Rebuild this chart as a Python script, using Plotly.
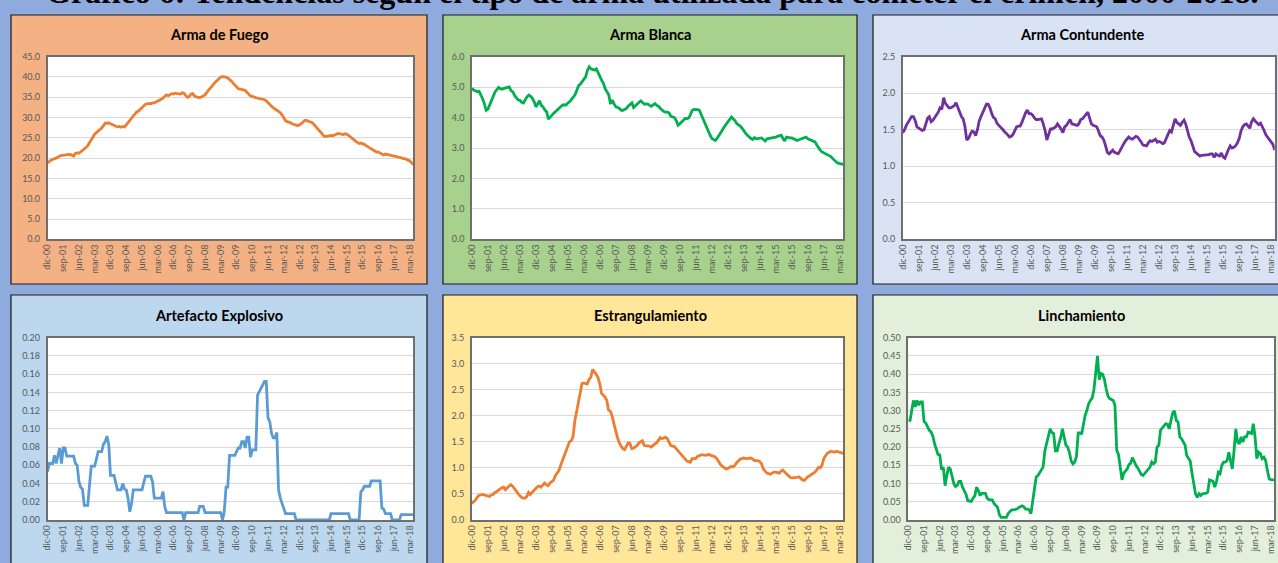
import pandas as pd
import plotly.graph_objects as go

# ---------------- data (monthly, dic-2000 .. may-2018) ----------------
START_MONTH = "2000-12-01"
N_MONTHS = 210

TICK_LABELS = ["dic-00", "sep-01", "jun-02", "mar-03", "dic-03", "sep-04", "jun-05", "mar-06",
               "dic-06", "sep-07", "jun-08", "mar-09", "dic-09", "sep-10", "jun-11", "mar-12",
               "dic-12", "sep-13", "jun-14", "mar-15", "dic-15", "sep-16", "jun-17", "mar-18"]

arma_fuego = [18.8,
    19.2, 19.5, 19.7, 19.8, 20.0, 20.3, 20.6, 20.7, 20.7, 20.8, 20.8, 20.9,
    20.9, 20.6, 20.5, 21.2, 21.3, 21.2, 21.5, 21.8, 22.2, 22.6, 23.1, 23.8,
    24.5, 25.3, 25.9, 26.3, 26.6, 26.9, 27.4, 28.0, 28.6, 28.6, 28.7, 28.5,
    28.3, 28.1, 27.9, 27.7, 27.8, 27.6, 27.8, 27.7, 28.2, 28.8, 29.4, 30.0,
    30.4, 30.9, 31.4, 31.6, 32.0, 32.4, 33.0, 33.3, 33.4, 33.5, 33.4, 33.6,
    33.6, 33.8, 34.0, 34.2, 34.5, 34.8, 35.1, 35.6, 35.4, 35.6, 35.9, 35.8,
    36.0, 35.9, 35.8, 35.8, 36.1, 36.0, 35.4, 35.0, 35.2, 35.8, 35.9, 35.3,
    35.1, 35.0, 34.9, 35.1, 35.3, 35.6, 36.2, 36.8, 37.3, 37.8, 38.3, 38.8,
    39.3, 39.8, 40.0, 40.1, 40.1, 40.0, 39.7, 39.4, 39.0, 38.5, 38.0, 37.5,
    37.1, 37.0, 36.9, 36.9, 36.7, 36.2, 35.6, 35.3, 35.2, 35.0, 34.9, 34.8,
    34.7, 34.6, 34.5, 34.4, 34.1, 33.6, 33.1, 32.8, 32.4, 32.0, 31.8, 31.5,
    31.2, 30.6, 29.8, 29.2, 29.0, 28.9, 28.7, 28.4, 28.2, 28.1, 28.0, 28.2,
    28.5, 28.9, 29.3, 29.3, 29.1, 29.0, 28.8, 28.4, 27.9, 27.4, 26.9, 26.4,
    25.9, 25.4, 25.3, 25.4, 25.5, 25.6, 25.5, 25.8, 25.9, 26.1, 26.0, 25.9,
    25.8, 26.0, 25.9, 25.6, 25.2, 24.9, 24.5, 24.2, 23.9, 23.6, 23.7, 23.6,
    23.4, 23.1, 22.9, 22.6, 22.3, 22.0, 21.7, 21.5, 21.5, 21.2, 20.9, 20.8,
    21.0, 20.9, 20.8, 20.7, 20.6, 20.5, 20.5, 20.4, 20.3, 20.1, 19.9, 19.9,
    19.7, 19.5, 19.3, 18.9, 18.4]

arma_blanca = [4.96,
    4.90, 4.88, 4.85, 4.86, 4.75, 4.62, 4.45, 4.24, 4.28, 4.42, 4.57, 4.72,
    4.85, 4.92, 4.99, 4.95, 4.93, 4.96, 4.98, 5.00, 5.01, 4.88, 4.85, 4.72,
    4.63, 4.58, 4.57, 4.50, 4.48, 4.59, 4.68, 4.74, 4.70, 4.63, 4.52, 4.35,
    4.45, 4.55, 4.40, 4.35, 4.25, 4.19, 3.95, 4.00, 4.08, 4.14, 4.19, 4.25,
    4.30, 4.35, 4.41, 4.42, 4.41, 4.48, 4.52, 4.60, 4.66, 4.75, 4.90, 5.05,
    5.10, 5.18, 5.22, 5.34, 5.55, 5.67, 5.60, 5.58, 5.56, 5.60, 5.45, 5.34,
    5.22, 5.12, 4.95, 4.85, 4.75, 4.45, 4.57, 4.45, 4.35, 4.33, 4.30, 4.24,
    4.24, 4.27, 4.30, 4.38, 4.44, 4.48, 4.33, 4.40, 4.46, 4.50, 4.55, 4.48,
    4.44, 4.45, 4.44, 4.40, 4.37, 4.42, 4.46, 4.40, 4.37, 4.30, 4.24, 4.20,
    4.18, 4.18, 4.15, 4.04, 4.02, 4.00, 3.90, 3.75, 3.80, 3.86, 3.92, 3.97,
    3.97, 3.99, 4.10, 4.24, 4.27, 4.27, 4.26, 4.24, 4.10, 3.95, 3.80, 3.65,
    3.53, 3.42, 3.31, 3.27, 3.25, 3.32, 3.40, 3.50, 3.60, 3.70, 3.78, 3.86,
    3.95, 4.02, 3.96, 3.90, 3.80, 3.77, 3.72, 3.65, 3.55, 3.48, 3.42, 3.35,
    3.31, 3.28, 3.34, 3.30, 3.31, 3.34, 3.33, 3.28, 3.23, 3.30, 3.31, 3.31,
    3.33, 3.34, 3.36, 3.38, 3.40, 3.42, 3.32, 3.23, 3.36, 3.34, 3.33, 3.33,
    3.31, 3.28, 3.25, 3.27, 3.29, 3.31, 3.33, 3.36, 3.30, 3.28, 3.25, 3.22,
    3.20, 3.10, 3.01, 2.93, 2.87, 2.84, 2.81, 2.79, 2.76, 2.72, 2.65, 2.58,
    2.54, 2.50, 2.48, 2.47, 2.46]

arma_contundente = [1.46,
    1.50, 1.56, 1.60, 1.65, 1.68, 1.68, 1.63, 1.54, 1.52, 1.50, 1.49, 1.50,
    1.58, 1.66, 1.68, 1.61, 1.63, 1.67, 1.70, 1.74, 1.80, 1.78, 1.94, 1.86,
    1.83, 1.80, 1.80, 1.81, 1.83, 1.87, 1.81, 1.76, 1.68, 1.65, 1.54, 1.36,
    1.38, 1.44, 1.48, 1.47, 1.42, 1.50, 1.62, 1.68, 1.74, 1.80, 1.85, 1.85,
    1.80, 1.72, 1.67, 1.65, 1.59, 1.56, 1.54, 1.51, 1.48, 1.46, 1.43, 1.40,
    1.41, 1.44, 1.50, 1.54, 1.55, 1.55, 1.60, 1.68, 1.73, 1.77, 1.72, 1.72,
    1.70, 1.66, 1.64, 1.64, 1.64, 1.65, 1.58, 1.49, 1.36, 1.45, 1.51, 1.51,
    1.52, 1.54, 1.58, 1.55, 1.51, 1.46, 1.54, 1.56, 1.60, 1.64, 1.58, 1.57,
    1.57, 1.56, 1.58, 1.64, 1.65, 1.68, 1.70, 1.74, 1.66, 1.58, 1.56, 1.55,
    1.54, 1.48, 1.42, 1.40, 1.36, 1.28, 1.19, 1.17, 1.19, 1.22, 1.19, 1.18,
    1.17, 1.21, 1.26, 1.30, 1.34, 1.37, 1.40, 1.38, 1.37, 1.39, 1.41, 1.40,
    1.37, 1.33, 1.29, 1.29, 1.28, 1.32, 1.35, 1.34, 1.35, 1.37, 1.33, 1.34,
    1.33, 1.31, 1.32, 1.38, 1.42, 1.49, 1.47, 1.56, 1.65, 1.60, 1.58, 1.56,
    1.60, 1.63, 1.58, 1.48, 1.40, 1.35, 1.28, 1.20, 1.18, 1.16, 1.14, 1.15,
    1.15, 1.16, 1.15, 1.16, 1.17, 1.17, 1.12, 1.17, 1.15, 1.14, 1.18, 1.13,
    1.11, 1.18, 1.23, 1.28, 1.25, 1.26, 1.28, 1.32, 1.38, 1.48, 1.54, 1.57,
    1.58, 1.55, 1.52, 1.61, 1.65, 1.62, 1.60, 1.57, 1.59, 1.55, 1.49, 1.43,
    1.40, 1.36, 1.34, 1.30, 1.22]

artefacto_explosivo = [0.053,
    0.062, 0.062, 0.062, 0.071, 0.062, 0.071, 0.079, 0.062, 0.079, 0.079, 0.070, 0.070,
    0.070, 0.070, 0.070, 0.062, 0.060, 0.042, 0.036, 0.034, 0.016, 0.016, 0.016, 0.038,
    0.059, 0.059, 0.059, 0.067, 0.075, 0.075, 0.075, 0.083, 0.086, 0.092, 0.083, 0.049,
    0.049, 0.049, 0.041, 0.033, 0.033, 0.033, 0.040, 0.034, 0.033, 0.024, 0.009, 0.018,
    0.033, 0.033, 0.033, 0.033, 0.033, 0.033, 0.041, 0.048, 0.048, 0.048, 0.048, 0.042,
    0.024, 0.024, 0.024, 0.024, 0.024, 0.031, 0.015, 0.008, 0.008, 0.008, 0.008, 0.008,
    0.008, 0.008, 0.008, 0.008, 0.008, 0.000, 0.008, 0.008, 0.008, 0.008, 0.008, 0.008,
    0.008, 0.008, 0.015, 0.015, 0.015, 0.008, 0.008, 0.008, 0.008, 0.008, 0.008, 0.008,
    0.008, 0.008, 0.008, 0.000, 0.009, 0.036, 0.036, 0.071, 0.071, 0.071, 0.071, 0.075,
    0.079, 0.079, 0.086, 0.086, 0.079, 0.091, 0.091, 0.069, 0.077, 0.077, 0.077, 0.137,
    0.141, 0.146, 0.148, 0.152, 0.152, 0.112, 0.108, 0.095, 0.090, 0.090, 0.096, 0.033,
    0.024, 0.018, 0.012, 0.007, 0.007, 0.007, 0.007, 0.007, 0.007, 0.000, 0.000, 0.000,
    0.000, 0.000, 0.000, 0.000, 0.000, 0.000, 0.000, 0.000, 0.000, 0.000, 0.000, 0.000,
    0.000, 0.000, 0.000, 0.000, 0.000, 0.007, 0.007, 0.007, 0.007, 0.007, 0.007, 0.007,
    0.007, 0.007, 0.007, 0.007, 0.000, 0.000, 0.000, 0.000, 0.000, 0.000, 0.031, 0.033,
    0.037, 0.037, 0.037, 0.037, 0.043, 0.043, 0.043, 0.043, 0.043, 0.043, 0.013, 0.012,
    0.007, 0.007, 0.007, 0.007, 0.000, 0.000, 0.000, 0.000, 0.000, 0.006, 0.006, 0.006,
    0.006, 0.006, 0.006, 0.006, 0.006]

estrangulamiento = [0.32,
    0.35, 0.38, 0.43, 0.47, 0.48, 0.49, 0.48, 0.47, 0.46, 0.45, 0.48, 0.49,
    0.53, 0.54, 0.57, 0.60, 0.62, 0.63, 0.58, 0.62, 0.66, 0.68, 0.65, 0.60,
    0.56, 0.50, 0.47, 0.44, 0.42, 0.42, 0.45, 0.53, 0.49, 0.53, 0.57, 0.60,
    0.64, 0.65, 0.63, 0.67, 0.71, 0.68, 0.66, 0.71, 0.74, 0.76, 0.85, 0.90,
    0.95, 1.05, 1.13, 1.20, 1.30, 1.39, 1.50, 1.52, 1.60, 1.90, 2.10, 2.30,
    2.50, 2.62, 2.63, 2.62, 2.61, 2.70, 2.74, 2.89, 2.85, 2.80, 2.74, 2.62,
    2.43, 2.40, 2.36, 2.30, 2.11, 2.09, 2.00, 1.85, 1.70, 1.58, 1.48, 1.42,
    1.37, 1.35, 1.42, 1.48, 1.47, 1.37, 1.38, 1.40, 1.43, 1.48, 1.50, 1.52,
    1.43, 1.43, 1.43, 1.42, 1.40, 1.44, 1.46, 1.48, 1.53, 1.58, 1.56, 1.57,
    1.59, 1.56, 1.50, 1.43, 1.42, 1.41, 1.37, 1.33, 1.28, 1.26, 1.22, 1.18,
    1.13, 1.12, 1.11, 1.18, 1.18, 1.18, 1.22, 1.24, 1.25, 1.25, 1.24, 1.24,
    1.26, 1.25, 1.24, 1.23, 1.21, 1.17, 1.10, 1.06, 1.03, 1.00, 0.98, 0.99,
    1.01, 1.03, 1.02, 1.05, 1.10, 1.14, 1.17, 1.18, 1.19, 1.18, 1.18, 1.18,
    1.19, 1.17, 1.14, 1.14, 1.14, 1.12, 1.08, 0.98, 0.94, 0.90, 0.89, 0.88,
    0.90, 0.92, 0.92, 0.91, 0.90, 0.94, 0.96, 0.92, 0.89, 0.85, 0.82, 0.81,
    0.81, 0.81, 0.82, 0.83, 0.80, 0.77, 0.76, 0.80, 0.83, 0.85, 0.87, 0.89,
    0.92, 0.96, 1.01, 1.00, 1.05, 1.18, 1.24, 1.28, 1.30, 1.32, 1.31, 1.30,
    1.32, 1.31, 1.30, 1.29, 1.28]

linchamiento = [0.273,
    0.273, 0.303, 0.328, 0.310, 0.328, 0.315, 0.324, 0.324, 0.270, 0.266, 0.255, 0.246,
    0.241, 0.230, 0.210, 0.195, 0.180, 0.178, 0.138, 0.145, 0.094, 0.122, 0.145, 0.140,
    0.120, 0.099, 0.092, 0.095, 0.106, 0.106, 0.090, 0.080, 0.070, 0.053, 0.051, 0.051,
    0.060, 0.067, 0.090, 0.081, 0.067, 0.073, 0.073, 0.073, 0.060, 0.056, 0.055, 0.055,
    0.045, 0.039, 0.035, 0.015, 0.007, 0.007, 0.007, 0.007, 0.018, 0.024, 0.028, 0.028,
    0.029, 0.030, 0.034, 0.037, 0.039, 0.036, 0.030, 0.030, 0.028, 0.017, 0.050, 0.085,
    0.118, 0.122, 0.130, 0.137, 0.145, 0.190, 0.212, 0.232, 0.250, 0.240, 0.237, 0.190,
    0.190, 0.210, 0.225, 0.250, 0.229, 0.205, 0.200, 0.185, 0.162, 0.154, 0.159, 0.174,
    0.239, 0.239, 0.235, 0.262, 0.287, 0.301, 0.319, 0.328, 0.335, 0.358, 0.402, 0.450,
    0.385, 0.402, 0.400, 0.385, 0.360, 0.340, 0.333, 0.330, 0.328, 0.315, 0.191, 0.180,
    0.150, 0.110, 0.128, 0.136, 0.140, 0.152, 0.156, 0.171, 0.158, 0.150, 0.143, 0.135,
    0.125, 0.122, 0.128, 0.133, 0.140, 0.145, 0.159, 0.154, 0.159, 0.200, 0.205, 0.246,
    0.253, 0.260, 0.264, 0.263, 0.250, 0.273, 0.294, 0.299, 0.273, 0.269, 0.228, 0.223,
    0.215, 0.205, 0.177, 0.168, 0.162, 0.128, 0.094, 0.072, 0.062, 0.072, 0.067, 0.072,
    0.073, 0.073, 0.076, 0.110, 0.108, 0.106, 0.090, 0.106, 0.131, 0.127, 0.150, 0.159,
    0.159, 0.163, 0.186, 0.162, 0.140, 0.191, 0.250, 0.214, 0.209, 0.228, 0.214, 0.228,
    0.228, 0.241, 0.239, 0.237, 0.264, 0.228, 0.168, 0.186, 0.182, 0.168, 0.172, 0.163,
    0.136, 0.113, 0.111, 0.110, 0.110]

TITLES = ["Arma de Fuego", "Arma Blanca", "Arma Contundente",
          "Artefacto Explosivo", "Estrangulamiento", "Linchamiento"]
SERIES = [arma_fuego, arma_blanca, arma_contundente,
          artefacto_explosivo, estrangulamiento, linchamiento]
Y_MAX = [45, 6, 2.5, 0.20, 3.5, 0.50]
Y_STEP = [5, 1, 0.5, 0.02, 0.5, 0.05]
Y_FMT = [".1f", ".1f", ".1f", ".2f", ".1f", ".2f"]

MAIN_TITLE = "Gráfico 6: Tendencias según el tipo de arma utilizada para cometer el crimen, 2000-2018."

# ---------------- styling ----------------
W, H = 1278, 563
LINE_COLORS = ["#ED7D31", "#00B050", "#7030A0", "#5B9BD5", "#ED7D31", "#00B050"]
PANEL_COLORS = ["#F4B183", "#A9D18E", "#DAE3F3", "#BDD7EE", "#FFE699", "#E2EFDA"]
# panels in pixels: (x0, x1, y0, y1)
PANELS = [(11, 427, 15, 284), (443, 857, 15, 284), (873, 1292, 15, 284),
          (11, 427, 295, 590), (443, 857, 295, 590), (873, 1292, 295, 590)]
# plot areas in pixels: (x0, x1, y_top, y_bottom)
PLOTS = [(47.5, 413.3, 56.7, 239.3), (472, 843.3, 56.7, 239.3), (902.7, 1274.7, 56.7, 239.3),
         (47.5, 413.3, 337.7, 520), (471.7, 843.3, 337.7, 520), (908.3, 1274.3, 337.7, 520)]
TITLE_Y = [34, 34, 34, 315, 315, 315]

FONT = "Lato, 'Open Sans', sans-serif"

dates = pd.date_range(START_MONTH, periods=N_MONTHS, freq="MS")
tickvals = list(dates[::9])

fig = go.Figure()
layout = dict(
    template="none",
    width=W, height=H, margin=dict(l=0, r=0, t=0, b=0, pad=0), autosize=False,
    paper_bgcolor="#8FAADC", plot_bgcolor="rgba(0,0,0,0)",
    showlegend=False, shapes=[], annotations=[], hovermode="closest",
)


def px_x(v):
    return v / W


def px_y(v):
    return 1 - v / H


panel_shapes = []
plot_shapes = []
for k in range(6):
    sfx = "" if k == 0 else str(k + 1)
    fig.add_trace(go.Scatter(
        x=dates, y=SERIES[k], mode="lines",
        line=dict(color=LINE_COLORS[k], width=2.8),
        xaxis="x" + sfx, yaxis="y" + sfx, hoverinfo="x+y",
    ))
    x0, x1, yt, yb = PLOTS[k]
    layout["xaxis" + sfx] = dict(
        domain=[px_x(x0), px_x(x1)], anchor="y" + sfx, type="date", automargin=False,
        range=[dates[0], dates[-1]], tickmode="array", tickvals=tickvals, ticktext=TICK_LABELS,
        tickangle=-90, tickfont=dict(family=FONT, size=9, color="#595959"),
        showgrid=False, showline=True, linecolor="#6F6F6F", linewidth=1.5, mirror=True,
        ticks="", zeroline=False, fixedrange=True,
    )
    layout["yaxis" + sfx] = dict(
        domain=[px_y(yb), px_y(yt)], anchor="x" + sfx, automargin=False,
        range=[0, Y_MAX[k]], dtick=Y_STEP[k], tick0=0, tickformat=Y_FMT[k],
        tickfont=dict(family=FONT, size=9, color="#595959"),
        showgrid=True, gridcolor="#D9D9D9", gridwidth=1,
        showline=True, linecolor="#6F6F6F", linewidth=1.5, mirror=True,
        ticks="", zeroline=False, fixedrange=True, ticklabelstandoff=4,
    )
    px0, px1, py0, py1 = PANELS[k]
    panel_shapes.append(dict(
        type="rect", xref="paper", yref="paper", layer="below",
        x0=px_x(px0), x1=px_x(px1), y0=px_y(py1), y1=px_y(py0),
        fillcolor=PANEL_COLORS[k], line=dict(color="#1A1A1A", width=1.2),
    ))
    plot_shapes.append(dict(
        type="rect", xref="paper", yref="paper", layer="below",
        x0=px_x(x0), x1=px_x(x1), y0=px_y(yb), y1=px_y(yt),
        fillcolor="#FFFFFF", line=dict(width=0),
    ))
    layout["annotations"].append(dict(
        text="<b>" + TITLES[k] + "</b>", xref="paper", yref="paper",
        x=px_x((px0 + min(px1, 1290)) / 2), y=px_y(TITLE_Y[k]),
        xanchor="center", yanchor="middle", showarrow=False,
        font=dict(family=FONT, size=14.5, color="#000000"),
    ))

layout["shapes"] = panel_shapes + plot_shapes

layout["annotations"].append(dict(
    text="<b>" + MAIN_TITLE + "</b>", xref="paper", yref="paper",
    x=px_x(652), y=px_y(-8), xanchor="center", yanchor="middle", showarrow=False,
    font=dict(family="'Liberation Serif', 'Times New Roman', serif", size=32, color="#000000"),
))

fig.update_layout(**layout)
fig.write_html(
    "out.html",
    config={"displayModeBar": False},
    post_script="document.body.style.margin='0';document.body.style.overflow='hidden';",
)
